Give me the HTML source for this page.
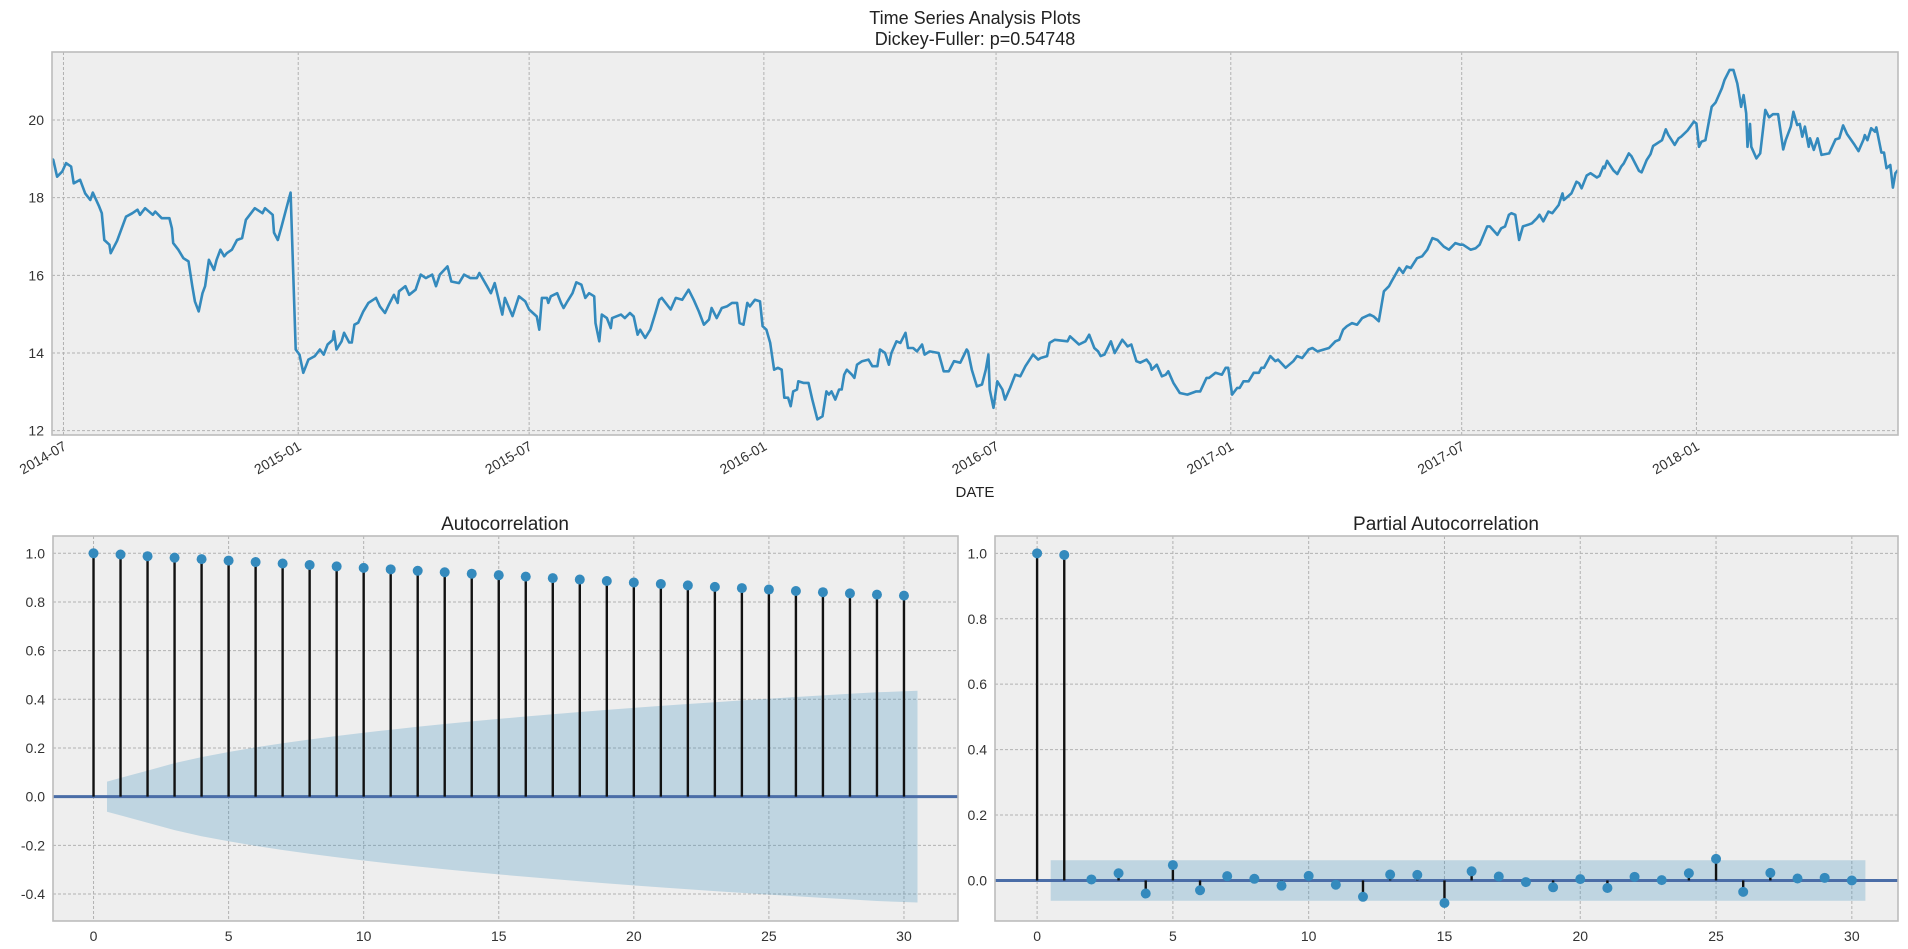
<!DOCTYPE html>
<html><head><meta charset="utf-8"><style>
body{margin:0;background:#fff;}
svg{display:block;font-family:"Liberation Sans",sans-serif;}
</style></head><body>
<svg id="chart" width="1908" height="949" viewBox="0 0 1908 949" xmlns="http://www.w3.org/2000/svg">
<text x="975" y="24" text-anchor="middle" font-size="18" fill="#222">Time Series Analysis Plots</text>
<text x="975" y="45" text-anchor="middle" font-size="18" fill="#222">Dickey-Fuller: p=0.54748</text>
<text x="505" y="530" text-anchor="middle" font-size="19" fill="#222">Autocorrelation</text>
<text x="1446" y="530" text-anchor="middle" font-size="19" fill="#222">Partial Autocorrelation</text>
<text x="975" y="497" text-anchor="middle" font-size="15" fill="#222">DATE</text>
</svg>
<script>
// ---- time series data (day offsets from 2014-07-01, values) ----
const tsDays = [-9,-8,-5,-1,2,6,8,13,17,21,23,28,30,32,36,37,42,49,54,58,60,64,70,72,77,83,85,86,90,94,98,101,103,106,109,111,114,118,120,123,126,128,132,136,140,143,147,150,156,158,164,165,168,171,174,178,182,185,188,192,197,201,204,207,211,212,214,218,220,224,226,228,231,235,239,245,248,252,255,259,262,263,268,271,276,280,284,289,292,295,301,304,310,314,319,324,326,332,335,338,344,346,352,357,362,365,371,373,375,379,380,382,387,
390,392,395,399,402,406,409,412,416,417,420,422,426,429,430,437,440,444,447,450,452,456,460,464,467,469,476,480,485,490,494,498,502,506,508,512,516,520,524,528,530,533,536,538,542,546,548,551,554,557,560,563,565,568,570,572,575,576,580,584,587,591,595,598,600,602,605,608,610,612,614,618,620,622,626,631,634,638,640,644,647,649,653,656,660,662,666,669,673,675,679,686,690,694,698,703,708,709,712,716,720,723,725,726,729,732,736,738,742,746,750,754,760,764,766,771,773,777,
787,789,796,801,804,808,811,813,816,821,824,830,832,834,837,841,844,849,852,853,857,861,864,866,870,875,881,888,891,896,898,903,908,911,913,916,920,922,925,929,933,937,939,941,946,950,952,958,964,967,971,975,976,979,983,988,992,997,1000,1003,1006,1010,1014,1018,1024,1027,1031,1035,1039,1041,1047,1050,1053,1056,1061,1065,1069,1073,1077,1082,1086,1091,1095,1097,1103,1107,1110,1116,1118,1124,1127,1130,1133,1135,1138,1141,1144,1148,1151,1155,1157,1160,1164,1167,
1172,1175,1176,1182,1186,1188,1190,1194,1197,1202,1204,1207,1208,1210,1215,1218,1221,1223,1227,1229,1232,1235,1237,1241,1244,1246,1253,1256,1258,1263,1266,1268,1273,1278,1280,1282,1284,1287,1292,1295,1300,1302,1306,1309,1312,1313,1315,1317,1319,1320,1322,1323,1327,1330,1334,1337,1340,1344,1348,1350,1354,1356,1359,1361,1363,1365,1368,1369,1372,1375,1378,1384,1389,1392,1395,1398,1404,1407,1411,1412,1414,1417,1420,1421,1425,1427,1429,1432,1434,1436,1438];
const tsValues = [19.0,18.97,18.54,18.67,18.89,18.8,18.37,18.46,18.11,17.94,18.13,17.77,17.6,16.91,16.79,16.57,16.89,17.51,17.6,17.69,17.56,17.73,17.56,17.64,17.47,17.47,17.21,16.83,16.66,16.44,16.36,15.72,15.33,15.07,15.54,15.72,16.4,16.14,16.4,16.66,16.49,16.57,16.66,16.91,16.96,17.43,17.6,17.73,17.6,17.73,17.56,17.1,16.91,17.26,17.64,18.13,14.09,13.96,13.49,13.83,13.92,14.09,13.96,14.22,14.34,14.56,14.09,14.3,14.52,14.27,14.27,14.73,14.78,15.07,15.29,15.42,15.2,15.03,15.24,15.5,15.29,15.59,15.72,15.5,15.63,16.02,15.93,16.02,15.72,16.02,16.23,15.84,15.8,16.02,15.93,15.93,16.06,15.72,15.54,15.8,14.99,15.42,14.95,15.46,15.33,15.12,14.94,14.6,15.42,15.42,15.29,15.46,15.54,
15.29,15.16,15.33,15.54,15.82,15.76,15.42,15.54,15.46,14.77,14.3,14.99,14.9,14.64,14.9,14.99,14.9,15.03,14.94,14.47,14.6,14.39,14.6,15.03,15.37,15.42,15.12,15.42,15.37,15.63,15.37,15.07,14.73,14.86,15.16,14.9,15.16,15.2,15.29,15.29,14.77,14.73,15.29,15.2,15.37,15.33,14.69,14.6,14.26,13.57,13.62,13.57,12.85,12.85,12.63,13.01,13.06,13.27,13.23,13.23,12.8,12.29,12.37,13.01,12.93,13.01,12.8,13.06,13.06,13.44,13.57,13.44,13.36,13.7,13.79,13.83,13.66,13.66,14.09,14.0,13.7,14.0,14.3,14.26,14.52,14.13,14.13,14.04,14.22,13.96,14.04,14.0,13.53,13.53,13.79,13.75,14.09,14.04,13.57,13.14,13.19,13.57,13.96,13.06,12.59,13.27,13.06,12.8,13.1,13.44,13.4,13.66,13.96,13.83,13.87,13.92,14.26,14.34,14.3,
14.43,14.22,14.3,14.47,14.13,14.04,13.92,13.96,14.3,14.0,14.34,14.26,14.17,14.22,13.79,13.75,13.83,13.7,13.57,13.7,13.4,13.44,13.53,13.23,12.97,12.93,13.01,13.01,13.36,13.36,13.49,13.44,13.62,13.62,12.93,13.1,13.1,13.27,13.27,13.49,13.49,13.62,13.62,13.92,13.79,13.83,13.62,13.79,13.92,13.87,14.04,14.09,14.13,14.04,14.09,14.13,14.3,14.34,14.6,14.69,14.77,14.73,14.9,14.99,14.94,14.82,15.59,15.72,15.84,16.19,16.06,16.23,16.19,16.44,16.49,16.66,16.96,16.91,16.74,16.66,16.83,16.79,16.79,16.66,16.7,16.79,17.26,17.26,17.04,17.21,17.26,17.56,17.6,17.56,16.91,17.26,17.3,17.34,17.47,17.56,17.39,17.64,17.6,17.81,
18.11,17.94,18.11,18.41,18.37,18.24,18.57,18.63,18.52,18.56,18.8,18.76,18.95,18.7,18.61,18.8,18.88,19.14,19.07,18.88,18.69,18.65,18.97,19.12,19.33,19.48,19.76,19.61,19.36,19.53,19.57,19.73,19.96,19.91,19.31,19.44,19.48,20.34,20.45,20.82,21.03,21.29,21.29,20.94,20.76,20.34,20.64,20.17,19.31,19.9,19.31,19.01,19.14,20.26,20.07,20.15,20.15,19.24,19.48,19.83,20.21,19.87,19.9,19.57,19.83,19.31,19.53,19.23,19.53,19.1,19.14,19.5,19.53,19.86,19.64,19.36,19.2,19.5,19.61,19.48,19.79,19.7,19.81,19.16,19.16,18.76,18.84,18.26,18.63,18.71,18.8];
const tsYTicks = [12,14,16,18,20];
const tsXTickDays = [0,184,365,549,731,915,1096,1280];
const tsXTickLabels = ["2014-07","2015-01","2015-07","2016-01","2016-07","2017-01","2017-07","2018-01"];
// ---- ACF / PACF ----
const acfValues = [1.0,0.995,0.988,0.982,0.976,0.970,0.964,0.958,0.952,0.946,0.940,0.934,0.928,0.922,0.916,0.910,0.904,0.898,0.892,0.886,0.880,0.874,0.868,0.862,0.857,0.851,0.845,0.840,0.835,0.830,0.826];
const pacfValues = [1.0,0.995,0.003,0.022,-0.04,0.047,-0.03,0.013,0.005,-0.016,0.014,-0.013,-0.05,0.018,0.017,-0.069,0.028,0.012,-0.005,-0.021,0.004,-0.023,0.011,0.001,0.022,0.066,-0.035,0.023,0.006,0.008,0.0];
const nObs = 1000;
const pacfBand = 0.062;
const acfYTicks = [-0.4,-0.2,0.0,0.2,0.4,0.6,0.8,1.0];
const pacfYTicks = [0.0,0.2,0.4,0.6,0.8,1.0];
const lagTicks = [0,5,10,15,20,25,30];

const NS='http://www.w3.org/2000/svg';
const svg=document.getElementById('chart');
function mk(tag,attrs,parent){const e=document.createElementNS(NS,tag);for(const k in attrs)e.setAttribute(k,attrs[k]);(parent||svg).appendChild(e);return e;}
function scale(d0,d1,r0,r1){return v=>r0+(v-d0)*(r1-r0)/(d1-d0);}

function axesFrame(name,box,sx,sy,xt,yt,xl,yl,fmtY,rotX){
  const g=mk('g',{});
  
  
  const bg=mk('rect',{x:box.l,y:box.t,width:box.r-box.l,height:box.b-box.t,fill:'#eeeeee'},g);
  
  
  xt.forEach((v,i)=>{const x=sx(v);
    const gl=mk('line',{x1:x,x2:x,y1:box.t,y2:box.b,stroke:'#b2b2b2','stroke-width':1,'stroke-dasharray':'3,2'},g);
    
    
    let t;
    if(rotX){t=mk('text',{x:x+4,y:box.b+14,'text-anchor':'end','font-size':14,fill:'#333',transform:`rotate(-30 ${x+4} ${box.b+14})`},g);}
    else{t=mk('text',{x:x,y:box.b+20,'text-anchor':'middle','font-size':14,fill:'#333'},g);}
    t.textContent=xl[i];
    
    
  });
  yt.forEach((v,i)=>{const y=sy(v);
    const gl=mk('line',{x1:box.l,x2:box.r,y1:y,y2:y,stroke:'#b2b2b2','stroke-width':1,'stroke-dasharray':'3,2'},g);
    
    
    const t=mk('text',{x:box.l-8,y:y+5,'text-anchor':'end','font-size':14,fill:'#333'},g);
    t.textContent=yl[i];
    
    
  });
  return g;
}
function border(name,box){const b=mk('rect',{x:box.l,y:box.t,width:box.r-box.l,height:box.b-box.t,fill:'none',stroke:'#bcbcbc','stroke-width':1.6});
  
  }

// ---- top time series ----
const tBox={l:52,r:1898,t:52,b:435};
const tsx=scale(-9,1438,tBox.l,tBox.r);
const tsy=scale(14,20,353,120);
axesFrame('time-series-axes',tBox,tsx,tsy,tsXTickDays,tsYTicks,tsXTickLabels,tsYTicks.map(String),null,true);
const cp=mk('clipPath',{id:'tclip'});mk('rect',{x:tBox.l,y:tBox.t,width:tBox.r-tBox.l,height:tBox.b-tBox.t},cp);
const line=mk('path',{d:tsDays.map((d,i)=>(i?'L':'M')+tsx(d).toFixed(1)+','+tsy(tsValues[i]).toFixed(1)).join(''),fill:'none',stroke:'#348ABD','stroke-width':2.6,'stroke-linejoin':'round','clip-path':'url(#tclip)'});


border('time-series-axes',tBox);

// ---- correlogram helper ----
function correlogram(name,box,xd,yd,vals,yt,bandUpper){
  const sx=scale(xd[0],xd[1],box.l,box.r), sy=scale(yd[0],yd[1],box.b,box.t);
  axesFrame(name,box,sx,sy,lagTicks,yt,lagTicks.map(String),yt.map(v=>v.toFixed(1)),null,false);
  const pts=[];const K=vals.length-1;
  for(let k=1;k<=K;k++){const xx=k===1?k-0.5:(k===K?k+0.5:k);pts.push([xx,bandUpper[k]]);}
  let d='M'+pts.map(p=>sx(p[0]).toFixed(1)+','+sy(p[1]).toFixed(1)).join('L');
  d+='L'+pts.slice().reverse().map(p=>sx(p[0]).toFixed(1)+','+sy(-p[1]).toFixed(1)).join('L')+'Z';
  const band=mk('path',{d:d,fill:'#348ABD','fill-opacity':0.25});
  
  
  const base=mk('line',{x1:box.l,x2:box.r,y1:sy(0),y2:sy(0),stroke:'#4a6da7','stroke-width':3});
  
  
  vals.forEach((v,k)=>{
    const st=mk('line',{x1:sx(k),x2:sx(k),y1:sy(0),y2:sy(v),stroke:'#111','stroke-width':2.4});
    
    
    const m=mk('circle',{cx:sx(k),cy:sy(v),r:5,fill:'#348ABD'});
    
    
  });
  border(name,box);
}
const acfBand=[0];let ss=0;
for(let k=1;k<acfValues.length;k++){acfBand.push(1.96*Math.sqrt((1+2*ss)/nObs));ss+=acfValues[k]*acfValues[k];}
const pacfBandArr=pacfValues.map(()=>pacfBand);
correlogram('acf-axes',{l:53,r:958,t:536,b:921},[-1.5,32.0],[-0.511,1.071],acfValues,acfYTicks,acfBand);
correlogram('pacf-axes',{l:995,r:1898,t:536,b:921},[-1.55,31.7],[-0.124,1.053],pacfValues,pacfYTicks,pacfBandArr);
</script>
</body></html>
